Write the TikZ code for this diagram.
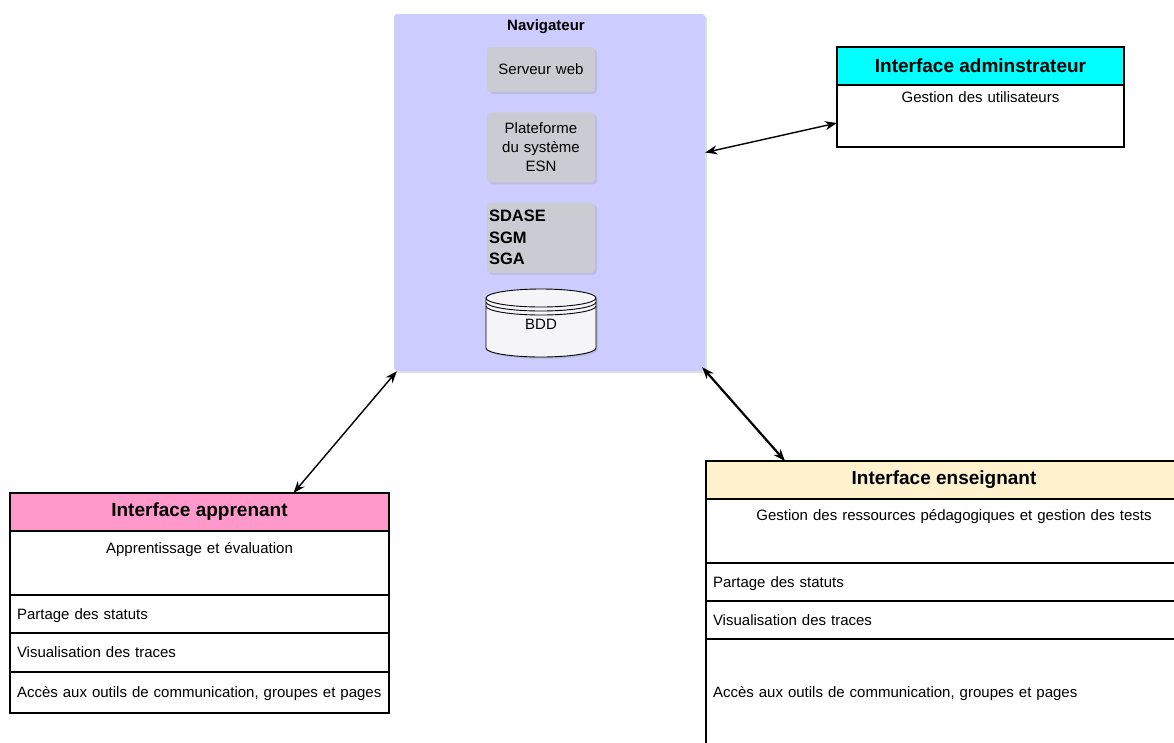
\documentclass[tikz,border=0pt]{standalone}
\usepackage{fontspec}
\setmainfont{Liberation Sans}
\usetikzlibrary{positioning,shadows,arrows.meta}

\definecolor{navfill}{HTML}{CCCCFF}
\definecolor{modfill}{HTML}{CBCBD3}
\definecolor{dbfill}{HTML}{F5F5F7}
\definecolor{apprfill}{HTML}{FF99CC}
\definecolor{adminfill}{HTML}{00FFFF}
\definecolor{ensfill}{HTML}{FFF2CC}

\newcommand{\bodyfont}{\fontsize{15}{19}\selectfont}
\newcommand{\titlefont}{\bfseries\fontsize{19}{22}\selectfont}

\tikzset{
  navbox/.style={fill=navfill, rounded corners=3pt,
    drop shadow={shadow xshift=2pt, shadow yshift=-2pt, opacity=0.25}},
  module/.style={fill=modfill, rounded corners=4pt,
    drop shadow={shadow xshift=2pt, shadow yshift=-2pt, opacity=0.2},
    minimum width=108pt, text width=104pt, inner xsep=2pt, inner ysep=0pt,
    align=center, font=\bodyfont},
  hdr/.style={draw, line width=1.2pt, outer sep=0pt, inner sep=0pt,
    minimum height=38pt, font=\titlefont},
  row/.style={draw, fill=white, line width=1.2pt, outer sep=0pt,
    inner xsep=7pt, inner ysep=0pt, text height=10.7pt, text depth=0pt,
    align=left, font=\bodyfont},
  toprow/.style={row, align=center, text height=#1, text depth=64pt-#1},
  link/.style={{Stealth[length=12pt,width=9pt]}-{Stealth[length=12pt,width=9pt]},
    line width=1.4pt},
}

\begin{document}
\begin{tikzpicture}[x=1pt, y=1pt]
    \useasboundingbox (0,0) rectangle (1174,-742);
    \clip (0,0) rectangle (1174,-742);

    % navigateur
    \node[navbox, minimum width=311pt, minimum height=357pt] (nav) at (549.5,-192.5) {};
    \node[font=\bfseries\fontsize{15}{18}\selectfont] (navt) at (546,-27) {Navigateur};

    \node[module, minimum height=45pt] (srv) at (541,-69.5) {Serveur web};
    \node[module, minimum height=70pt, below = 20pt of srv] (plat) {Plateforme\\du système\\ESN};
    \node[module, minimum height=70pt, below = 20pt of plat, align=left,
      font=\bfseries\fontsize{16.5}{21.5}\selectfont] (sys) {SDASE\\SGM\\SGA};

    \coordinate[below = 50pt of sys] (bddc);
    \begin{scope}[shift={(bddc)}]
      \draw[fill=dbfill, line width=0.9pt,
        drop shadow={shadow xshift=2pt, shadow yshift=-2pt, opacity=0.2}]
        (-55,25) -- (-55,-25) arc[start angle=180, end angle=360, x radius=55pt, y radius=9pt]
        -- (55,25) arc[start angle=0, end angle=180, x radius=55pt, y radius=9pt] -- cycle;
      \draw[line width=0.9pt] (-55,25) arc[start angle=180, end angle=360, x radius=55pt, y radius=9pt];
      \draw[line width=0.9pt] (-55,21) arc[start angle=180, end angle=360, x radius=55pt, y radius=9pt];
      \draw[line width=0.9pt] (-55,17) arc[start angle=180, end angle=360, x radius=55pt, y radius=9pt];
    \end{scope}
    \node[font=\bodyfont] (bdd) at ([yshift=-1pt]bddc) {BDD};

    % interface administrateur
    \node[hdr, fill=adminfill, minimum width=287pt] (adminh) at (980.5,-66) {Interface adminstrateur};
    \node[row, align=center, text width=273pt, text height=17pt, text depth=45pt,
      below = 0pt of adminh] (adminb) {Gestion des utilisateurs};

    % interface apprenant
    \node[hdr, fill=apprfill, minimum width=379pt] (apprh) at (199.5,-512) {Interface apprenant};
    \node[toprow=22pt, text width=365pt, below = 0pt of apprh] (appr1) {Apprentissage et évaluation};
    \node[row, text width=365pt, minimum height=38pt, below = 0pt of appr1] (appr2) {Partage des statuts};
    \node[row, text width=365pt, minimum height=39pt, below = 0pt of appr2] (appr3) {Visualisation des traces};
    \node[row, text width=365pt, minimum height=41pt, below = 0pt of appr3] (appr4) {Accès aux outils de communication, groupes et pages};

    % interface enseignant
    \node[hdr, fill=ensfill, minimum width=476pt] (ensh) at (944,-480) {Interface enseignant};
    \node[toprow=21.5pt, text width=462pt, below = 0pt of ensh] (ens1) {\hspace*{20pt}Gestion des ressources pédagogiques et gestion des tests};
    \node[row, text width=462pt, minimum height=38pt, below = 0pt of ens1] (ens2) {Partage des statuts};
    \node[row, text width=462pt, minimum height=38pt, below = 0pt of ens2] (ens3) {Visualisation des traces};
    \node[row, text width=462pt, minimum height=106pt, below = 0pt of ens3] (ens4) {Accès aux outils de communication, groupes et pages};

    % liens
    \draw[link] ([yshift=40pt]nav.east) -- ([yshift=-7pt]adminb.west);
    \draw[link] ([xshift=3pt]nav.south west) -- ([xshift=94pt]apprh.north);
    \draw[link, line width=2.2pt] ([xshift=-3pt,yshift=4pt]nav.south east) -- ([xshift=79pt]ensh.north west);
\end{tikzpicture}
\end{document}
